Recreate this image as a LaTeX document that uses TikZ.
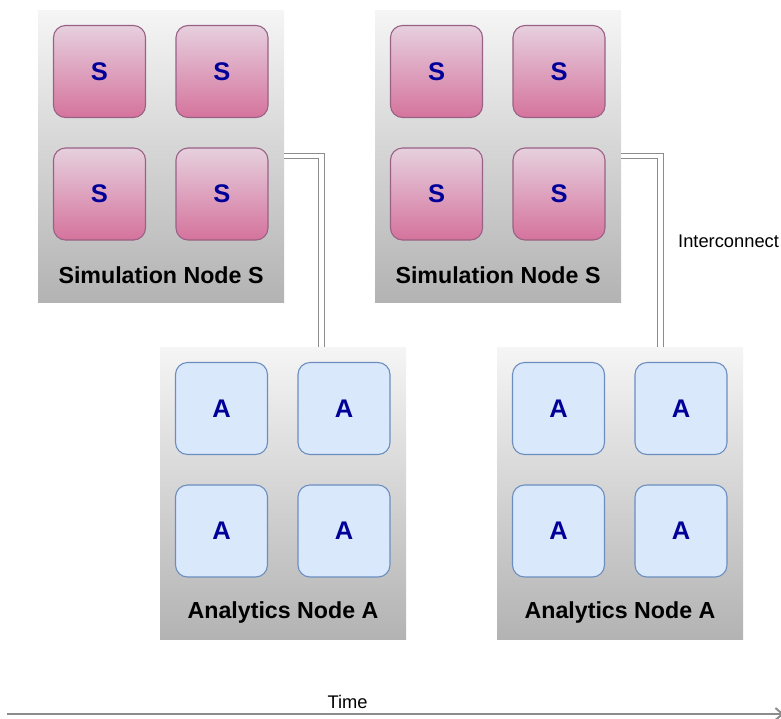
\documentclass[tikz,border=0pt]{standalone}
\usepackage{fontspec}
\setmainfont{Liberation Sans}
\usetikzlibrary{arrows.meta}

\definecolor{boxtop}{HTML}{F5F5F5}
\definecolor{boxbot}{HTML}{B3B3B3}
\definecolor{simtop}{HTML}{E6D0DE}
\definecolor{simbot}{HTML}{D5739D}
\definecolor{simline}{HTML}{996185}
\definecolor{anafill}{HTML}{DAE8FC}
\definecolor{analine}{HTML}{6C8EBF}
\definecolor{coretext}{HTML}{000099}
\definecolor{wire}{HTML}{8C8C8C}

\tikzset{
  machine/.style={minimum width=246, minimum height=292, inner sep=0,
    top color=boxtop, bottom color=boxbot, draw=none},
  simcore/.style={minimum width=92, minimum height=92, inner sep=0,
    rounded corners=12, line width=1.1, draw=simline,
    top color=simtop, bottom color=simbot,
    text=coretext, font=\fontsize{25.5}{30}\selectfont\bfseries},
  anacore/.style={minimum width=92, minimum height=92, inner sep=0,
    rounded corners=12, line width=1.1, draw=analine, fill=anafill,
    text=coretext, font=\fontsize{25.5}{30}\selectfont\bfseries},
  machinelabel/.style={font=\fontsize{23.2}{28}\selectfont\bfseries, text=black, inner sep=0},
  plainlabel/.style={font=\fontsize{18.3}{22}\selectfont, text=black, inner sep=0},
  link/.style={draw=wire, line width=1.1, double=white, double distance=4.6},
  timeline/.style={draw=wire, line width=2, -{Straight Barb[length=7,width=12]}},
}

% One machine: outer box, four cores and its caption
\newcommand\machinegroup[6]{%
  \node[machine] (#1) at (#2,#3) {};
  \node[#4] (#1-1) at ([xshift=-61.5pt,yshift=84.5pt]#1.center) {#5};
  \node[#4] (#1-2) at ([xshift=61pt,yshift=84.5pt]#1.center) {#5};
  \node[#4] (#1-3) at ([xshift=-61.5pt,yshift=-38pt]#1.center) {#5};
  \node[#4] (#1-4) at ([xshift=61pt,yshift=-38pt]#1.center) {#5};
  \node[machinelabel] (#1-label) at ([yshift=-119.5pt]#1.center) {#6};
}

\begin{document}
\begin{tikzpicture}[x=1pt, y=-1pt]
\useasboundingbox (0,0) rectangle (781,718);

% interconnect wires between simulation and analytics machines
\coordinate (w1) at (321.5,347);
\coordinate (w2) at (660.5,347);

\machinegroup{s1}{161}{156}{simcore}{S}{Simulation Node S}
\machinegroup{s2}{498}{156}{simcore}{S}{Simulation Node S}
\machinegroup{a1}{283}{493}{anacore}{A}{Analytics Node A}
\machinegroup{a2}{620}{493}{anacore}{A}{Analytics Node A}

\draw[link] (s1.east) -| (w1);
\draw[link] (s2.east) -| (w2);

\node[plainlabel, anchor=west] (ic) at (678,241) {Interconnect};

% time axis
\coordinate (t0) at (7,714);
\coordinate (t1) at (784,714);
\draw[timeline] (t0) -- (t1);
\node[plainlabel] (time) at (347.5,701.5) {Time};
\end{tikzpicture}
\end{document}
